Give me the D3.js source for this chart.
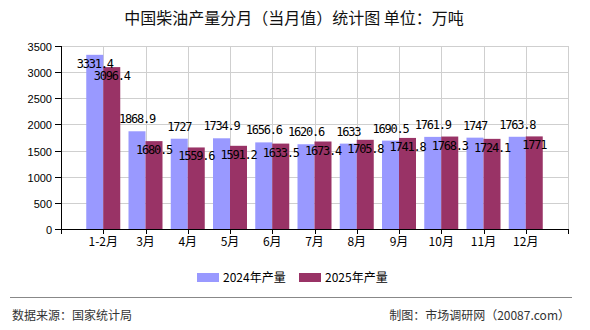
<!DOCTYPE html>
<html>
<head>
<meta charset="utf-8">
<script src="https://cdn.jsdelivr.net/npm/d3@7"></script>
<style>
  body { margin: 0; background: #fff; }
  svg { display: block; }
</style>
</head>
<body>
<svg id="chart" width="590" height="330"></svg>
<script>
var months = ["1-2月", "3月", "4月", "5月", "6月", "7月", "8月", "9月", "10月", "11月", "12月"];
var output2024 = [3331.4, 1868.9, 1727, 1734.9, 1656.6, 1620.6, 1633, 1690.5, 1761.9, 1747, 1763.8];
var output2025 = [3096.4, 1680.5, 1559.6, 1591.2, 1633.5, 1673.4, 1705.8, 1741.8, 1768.3, 1724.1, 1771];
var seriesNames = ["2024年产量", "2025年产量"];
var yTicks = [0, 500, 1000, 1500, 2000, 2500, 3000, 3500];

var col2024 = "#9999ff",
  col2025 = "#993366";

var svg = d3.select("#chart");
var plotLeft = 61, plotRight = 568, plotTop = 46, plotBottom = 229;
var barW = 17;

// one empty slot before the first month and after the last
var x = d3.scaleLinear().domain([0, months.length + 1]).range([plotLeft, plotRight]);
var y = d3.scaleLinear().domain([0, 3500]).range([plotBottom, plotTop]);

svg.append("text")
  .attr("x", 294).attr("y", 24)
  .attr("text-anchor", "middle")
  .style("font-family", "'Noto Sans CJK SC', sans-serif")
  .style("font-size", "16px")
  .style("fill", "#111")
  .text("中国柴油产量分月（当月值）统计图 单位：万吨");

// grid
var grid = svg.append("g").attr("stroke", "#cfcfcf").attr("stroke-width", 1);
yTicks.forEach(function (t) {
  if (t === 0) return;
  grid.append("line")
    .attr("x1", plotLeft).attr("x2", plotRight)
    .attr("y1", Math.round(y(t)) + 0.5).attr("y2", Math.round(y(t)) + 0.5);
});
d3.range(1, months.length + 2).forEach(function (i) {
  grid.append("line")
    .attr("x1", Math.round(x(i)) + 0.5).attr("x2", Math.round(x(i)) + 0.5)
    .attr("y1", plotTop).attr("y2", plotBottom);
});

// bars
var bars = svg.append("g");
months.forEach(function (m, i) {
  var cx = x(i + 1);
  bars.append("rect")
    .attr("x", cx - barW).attr("width", barW)
    .attr("y", y(output2024[i])).attr("height", plotBottom - y(output2024[i]))
    .attr("fill", col2024);
  bars.append("rect")
    .attr("x", cx).attr("width", barW)
    .attr("y", y(output2025[i])).attr("height", plotBottom - y(output2025[i]))
    .attr("fill", col2025);
});

// axes
svg.append("line")
  .attr("x1", plotLeft + 0.5).attr("x2", plotLeft + 0.5)
  .attr("y1", plotTop).attr("y2", plotBottom)
  .attr("stroke", "#000");
svg.append("line")
  .attr("x1", 55).attr("x2", plotRight + 1)
  .attr("y1", plotBottom + 0.5).attr("y2", plotBottom + 0.5)
  .attr("stroke", "#000");

yTicks.forEach(function (t) {
  var yy = Math.round(y(t)) + 0.5;
  svg.append("line")
    .attr("x1", 55).attr("x2", plotLeft)
    .attr("y1", yy).attr("y2", yy)
    .attr("stroke", "#000");
  svg.append("text")
    .attr("x", 52).attr("y", yy + 4)
    .attr("text-anchor", "end")
    .style("font-family", "'Liberation Sans', Arial, sans-serif")
    .style("font-size", "11px")
    .style("fill", "#000")
    .text(t);
});

d3.range(0, months.length + 2).forEach(function (i) {
  var xx = Math.round(x(i)) + 0.5;
  svg.append("line")
    .attr("x1", xx).attr("x2", xx)
    .attr("y1", plotBottom).attr("y2", plotBottom + 5)
    .attr("stroke", "#000");
});
months.forEach(function (m, i) {
  svg.append("text")
    .attr("x", x(i + 1)).attr("y", 246)
    .attr("text-anchor", "middle")
    .style("font-family", "'Noto Sans CJK SC', sans-serif")
    .style("font-size", "12px")
    .style("fill", "#000")
    .text(m);
});

// value labels
var labels = svg.append("g")
  .style("font-family", "'DejaVu Sans Mono', monospace")
  .style("font-size", "12px")
  .style("letter-spacing", "-1.2px")
  .attr("text-anchor", "middle")
  .style("fill", "#000");

months.forEach(function (m, i) {
  var cx = x(i + 1);
  var t1 = y(output2024[i]);
  var ly = t1 - 8;
  if (ly - 10 < plotTop) ly = t1 + 13;
  labels.append("text").attr("x", cx - barW / 2).attr("y", ly).text(output2024[i]);
  labels.append("text").attr("x", cx + barW / 2).attr("y", y(output2025[i]) + 13).text(output2025[i]);
});

// legend
var legend = svg.append("g")
  .style("font-family", "'Noto Sans CJK SC', sans-serif")
  .style("font-size", "12px");
[[197, col2024, seriesNames[0]], [299, col2025, seriesNames[1]]].forEach(function (d) {
  legend.append("rect")
    .attr("x", d[0]).attr("y", 273).attr("width", 22).attr("height", 9)
    .attr("fill", d[1]);
  legend.append("text")
    .attr("x", d[0] + 26).attr("y", 282)
    .style("fill", "#000")
    .text(d[2]);
});

// footer
svg.append("line")
  .attr("x1", 10).attr("x2", 572)
  .attr("y1", 297.5).attr("y2", 297.5)
  .attr("stroke", "#888");
svg.append("text")
  .attr("x", 12).attr("y", 320)
  .style("font-family", "'Noto Sans CJK SC', sans-serif")
  .style("font-size", "12px")
  .style("fill", "#333")
  .text("数据来源：国家统计局");
svg.append("text")
  .attr("x", 570).attr("y", 320)
  .attr("text-anchor", "end")
  .style("font-family", "'Noto Sans CJK SC', sans-serif")
  .style("font-size", "12px")
  .style("fill", "#333")
  .text("制图：市场调研网（20087.com）");
</script>
</body>
</html>
